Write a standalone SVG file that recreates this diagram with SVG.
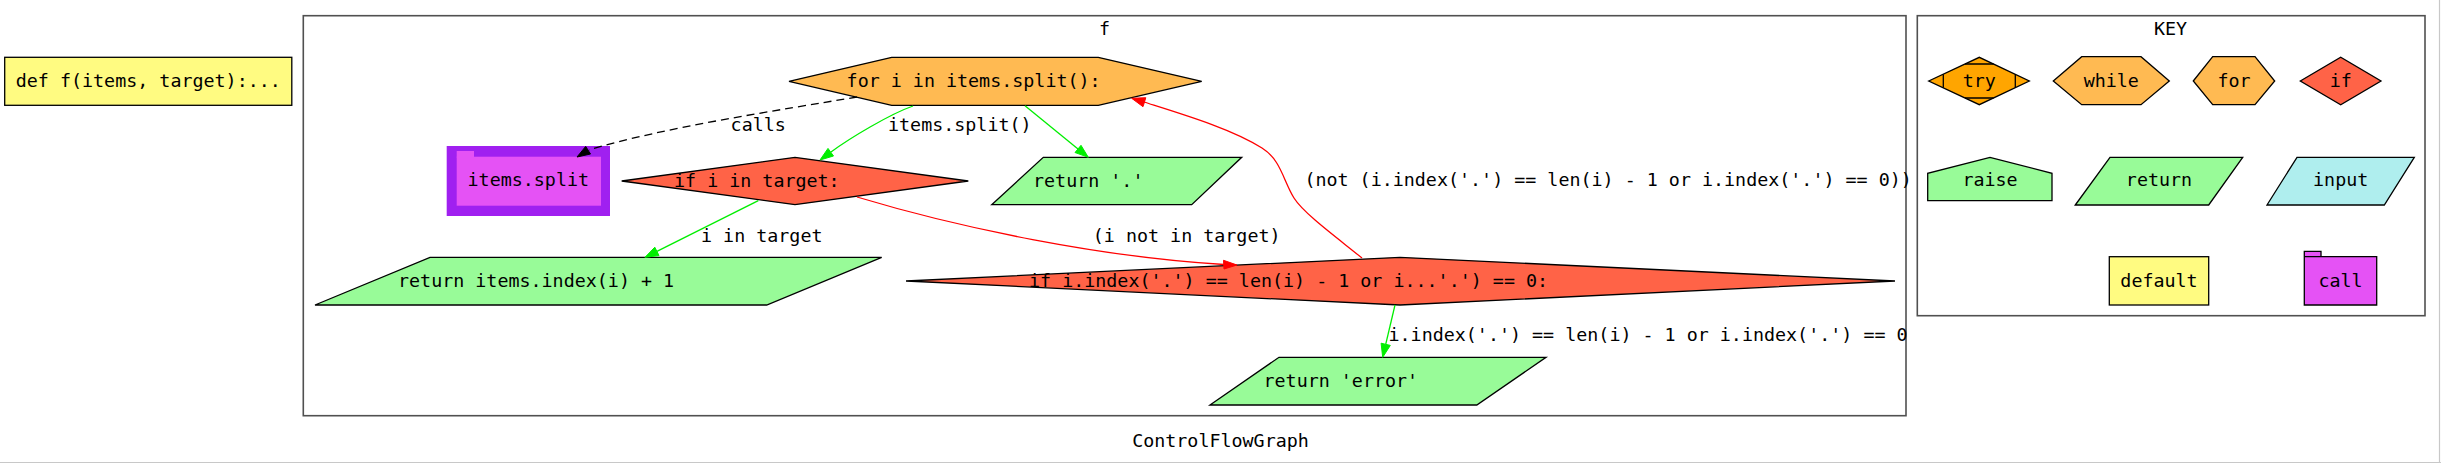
<svg xmlns="http://www.w3.org/2000/svg" width="2441" height="463" viewBox="0 0 2441 463">
<style>
text { font-family: "DejaVu Sans Mono", "Liberation Mono", monospace; font-size: 18.35px; fill: #000; }
.m { text-anchor: middle; }
.n { stroke: #000; stroke-width: 1.3; }
.cl { fill: none; stroke: #505050; stroke-width: 1.6; }
.loop { fill: #FFBA52; }
.try { fill: #FFA500; }
.if { fill: #FF6347; }
.ret { fill: #98FB98; }
.inp { fill: #AFEEEE; }
.def { fill: #FFFB81; }
.call { fill: #E552F5; }
.eg { fill: none; stroke: #00EE00; stroke-width: 1.3; }
.er { fill: none; stroke: #FF0000; stroke-width: 1.3; }
.ek { fill: none; stroke: #000; stroke-width: 1.3; stroke-dasharray: 8,5; }
.ag { fill: #00EE00; stroke: #00EE00; stroke-width: 1; }
.ar { fill: #FF0000; stroke: #FF0000; stroke-width: 1; }
.ak { fill: #000; stroke: #000; stroke-width: 1; }
</style>
<rect x="0" y="0" width="2441" height="463" fill="#fff"/>
<line x1="0" y1="462.5" x2="2441" y2="462.5" stroke="#c8c8c8" stroke-width="1.2"/>
<line x1="2439.5" y1="0" x2="2439.5" y2="463" stroke="#c8c8c8" stroke-width="1.2"/>

<g id="source">
  <rect class="n def" x="4.7" y="57.3" width="287.1" height="48"/>
  <text class="m" x="148.3" y="86.5">def f(items, target):...</text>
</g>

<g id="cluster_f">
  <rect class="cl" x="303.3" y="15.7" width="1602.7" height="400"/>
  <text class="m" x="1104.6" y="35">f</text>
</g>

<g id="cluster_key">
  <rect class="cl" x="1917.3" y="15.7" width="507.7" height="300"/>
  <text class="m" x="2170.5" y="35">KEY</text>
</g>

<text class="m" x="1220.5" y="446.5">ControlFlowGraph</text>

<g id="n_for">
  <polygon class="n loop" points="789,81.3 891.7,57.3 1098.3,57.3 1201.7,81.3 1098.3,105.3 891.7,105.3"/>
  <text x="846.6" y="87">for i in items.split():</text>
</g>

<g id="n_items_split">
  <rect x="446.7" y="146" width="163.3" height="70" fill="#A020F0"/>
  <rect x="456.7" y="156.7" width="144.3" height="49" class="call"/>
  <rect x="456.7" y="151" width="17.3" height="6.5" class="call"/>
  <text class="m" x="528.3" y="186">items.split</text>
</g>

<g id="n_if_target">
  <polygon class="n if" points="621.7,181 795,157.3 968.3,181 795,204.7"/>
  <text x="674" y="186.5">if i in target:</text>
</g>

<g id="n_ret_dot">
  <polygon class="n ret" points="991.7,204.7 1043.3,157.3 1241.7,157.3 1191.7,204.7"/>
  <text x="1033" y="186.5">return '.'</text>
</g>

<g id="n_ret_index">
  <polygon class="n ret" points="315,305 430,257.3 881.7,257.3 766.7,305"/>
  <text x="398" y="286.8">return items.index(i) + 1</text>
</g>

<g id="n_if_index">
  <polygon class="n if" points="906,281 1400,257.3 1895,281 1400,305"/>
  <text x="1029" y="286.8">if i.index('.') == len(i) - 1 or i...'.') == 0:</text>
</g>

<g id="n_ret_error">
  <polygon class="n ret" points="1210,405 1279,357.3 1546,357.3 1476.8,405"/>
  <text x="1263.5" y="386.5">return 'error'</text>
</g>

<g id="connectors">
  <g id="e_calls">
    <path class="ek" d="M857,97 C780,110 660,128 589,150"/>
    <polygon class="ak" points="577,157 590.5,154 585.7,146.4"/>
    <text x="730.6" y="130.5">calls</text>
  </g>
  <g id="e_for_if">
    <path class="eg" d="M913,106 C890,114 850,138 831,152"/>
    <polygon class="ag" points="820,160 833.5,156 828,148.4"/>
    <text x="888" y="130.5">items.split()</text>
  </g>
  <g id="e_for_ret">
    <path class="eg" d="M1025,105.7 L1078,148.9"/>
    <polygon class="ag" points="1088.3,157.3 1075,152.5 1081,145.3"/>
  </g>
  <g id="e_if_ret">
    <path class="eg" d="M758.3,200.7 L656.9,251.4"/>
    <polygon class="ag" points="645,257.3 659,255.6 654.8,247.2"/>
    <text x="701" y="241.5">i in target</text>
  </g>
  <g id="e_if_if2">
    <path class="er" d="M857,197 C960,228 1100,257 1224,264.5"/>
    <polygon class="ar" points="1237,265 1223.5,260.3 1224,269"/>
    <text x="1092.8" y="241.5">(i not in target)</text>
  </g>
  <g id="e_if2_for">
    <path class="er" d="M1362,258 C1340,240 1304,214 1294,198 C1283,180 1281,160 1262,148 C1232,129 1185,115 1144,102"/>
    <polygon class="ar" points="1131.7,98.3 1145.8,97.7 1143,106.7"/>
    <text x="1304.4" y="185.5">(not (i.index('.') == len(i) - 1 or i.index('.') == 0))</text>
  </g>
  <g id="e_if2_err">
    <path class="eg" d="M1395,305 L1385.7,344.3"/>
    <polygon class="ag" points="1382.7,357.3 1390.3,345.4 1381.1,343.2"/>
    <text x="1388.5" y="340.5">i.index('.') == len(i) - 1 or i.index('.') == 0</text>
  </g>
</g>

<g id="key_try">
  <polygon class="n try" points="1928.7,81 1979.3,57.3 2029.3,81 1979.3,104.7"/>
  <path class="n" fill="none" d="M1965,64 H1993.6 M1965,98 H1993.6 M1943.3,74.2 V87.8 M2015.3,74.2 V87.8"/>
  <text class="m" x="1979.3" y="86.5">try</text>
</g>
<g id="key_while">
  <polygon class="n loop" points="2053.3,81 2081.7,56.7 2141,56.7 2169.3,81 2141,104.7 2081.7,104.7"/>
  <text class="m" x="2111.3" y="86.5">while</text>
</g>
<g id="key_for">
  <polygon class="n loop" points="2193.3,81 2212.7,56.7 2255,56.7 2274.7,81 2255,104.7 2212.7,104.7"/>
  <text class="m" x="2234" y="86.5">for</text>
</g>
<g id="key_if">
  <polygon class="n if" points="2300.3,81 2340.7,57.3 2381,81 2340.7,104.7"/>
  <text class="m" x="2340.7" y="86.5">if</text>
</g>
<g id="key_raise">
  <polygon class="n ret" points="1927.7,200.7 1927.7,173.3 1990,157.3 2052,173.3 2052,200.7"/>
  <text class="m" x="1990" y="185.5">raise</text>
</g>
<g id="key_return">
  <polygon class="n ret" points="2075.3,205 2110,157.3 2242.7,157.3 2208.7,205"/>
  <text class="m" x="2159" y="185.5">return</text>
</g>
<g id="key_input">
  <polygon class="n inp" points="2267,205 2297,157.3 2414.3,157.3 2384.3,205"/>
  <text class="m" x="2340.7" y="185.5">input</text>
</g>
<g id="key_default">
  <rect class="n def" x="2109.3" y="256.7" width="99.4" height="48.3"/>
  <text class="m" x="2159" y="286.5">default</text>
</g>
<g id="key_call">
  <path class="n call" d="M2304.3,305 V251.3 H2321 V256.7 H2376.7 V305 Z M2304.3,256.7 H2321"/>
  <text class="m" x="2340.5" y="286.5">call</text>
</g>
</svg>
